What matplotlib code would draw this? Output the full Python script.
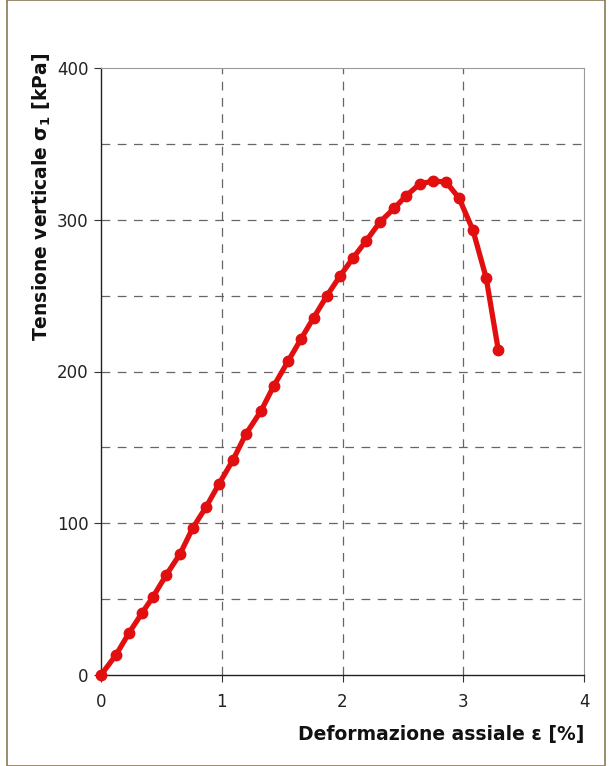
import numpy as np
import matplotlib
matplotlib.use("Agg")
import matplotlib.pyplot as plt
from matplotlib.patches import Rectangle

# deformazione assiale [%] e tensione verticale [kPa]
strain = [0.0, 0.124, 0.232, 0.34, 0.43, 0.54, 0.654, 0.76, 0.87, 0.977,
          1.093, 1.2, 1.325, 1.43, 1.55, 1.656, 1.76, 1.87, 1.98, 2.087,
          2.195, 2.31, 2.43, 2.526, 2.64, 2.75, 2.857, 2.965, 3.08, 3.19, 3.29]
stress = [0.0, 13.2, 27.7, 40.9, 51.4, 65.9, 79.7, 96.9, 110.7, 125.9,
          141.7, 158.8, 174.0, 190.4, 206.9, 221.4, 235.3, 249.8, 263.0, 274.8,
          286.0, 298.5, 307.7, 315.7, 323.6, 325.5, 324.9, 314.3, 293.2, 261.6, 214.2]

x_ticks = [0, 1, 2, 3, 4]
y_ticks = [0, 100, 200, 300, 400]
y_grid = [50, 100, 150, 200, 250, 300, 350]

fig = plt.figure(figsize=(6.13, 7.66), dpi=100)
ax = fig.add_axes([101 / 613, 1 - 675 / 766, 483 / 613, 607 / 766])

# cornice della pagina
fig.patches.append(Rectangle((0.012, 0.0), 0.975, 1.0, transform=fig.transFigure,
                             fill=False, edgecolor="#8a7a55", linewidth=1.2))

ax.plot(strain, stress, color="#e10f0f", linewidth=3.8, marker="o",
        markersize=7.5, markerfacecolor="#e10f0f", markeredgecolor="#e10f0f",
        zorder=5, clip_on=False)

ax.set_xlim(0, 4)
ax.set_ylim(0, 400)
ax.set_xticks(x_ticks)
ax.set_yticks(y_ticks)
ax.set_xticklabels([str(v) for v in x_ticks])
ax.set_yticklabels([str(v) for v in y_ticks])

for v in x_ticks[1:-1]:
    ax.axvline(v, color="#666666", linestyle=(0, (7, 6)), linewidth=0.9, zorder=1)
for v in y_grid:
    ax.axhline(v, color="#666666", linestyle=(0, (7, 6)), linewidth=0.9, zorder=1)

ax.tick_params(axis="both", labelsize=12, length=5, width=0.8, color="#333333",
               labelcolor="#222222")
ax.tick_params(axis="x", direction="out", pad=8)
ax.tick_params(axis="y", direction="out", pad=4)

for side in ["left", "bottom"]:
    ax.spines[side].set_color("#222222")
    ax.spines[side].set_linewidth(1.0)
for side in ["top", "right"]:
    ax.spines[side].set_color("#9a9a9a")
    ax.spines[side].set_linewidth(0.8)

ax.set_xlabel("Deformazione assiale ε [%]", fontsize=13.5, fontweight="bold",
              loc="right", labelpad=10, color="#111111")
ax.set_ylabel("Tensione verticale σ$_\\mathregular{1}$ [kPa]", fontsize=13.5,
              fontweight="bold", loc="top", labelpad=6, color="#111111")
ax.yaxis.set_label_coords(-0.1, 1.025)

fig.savefig("out.png", dpi=100)
